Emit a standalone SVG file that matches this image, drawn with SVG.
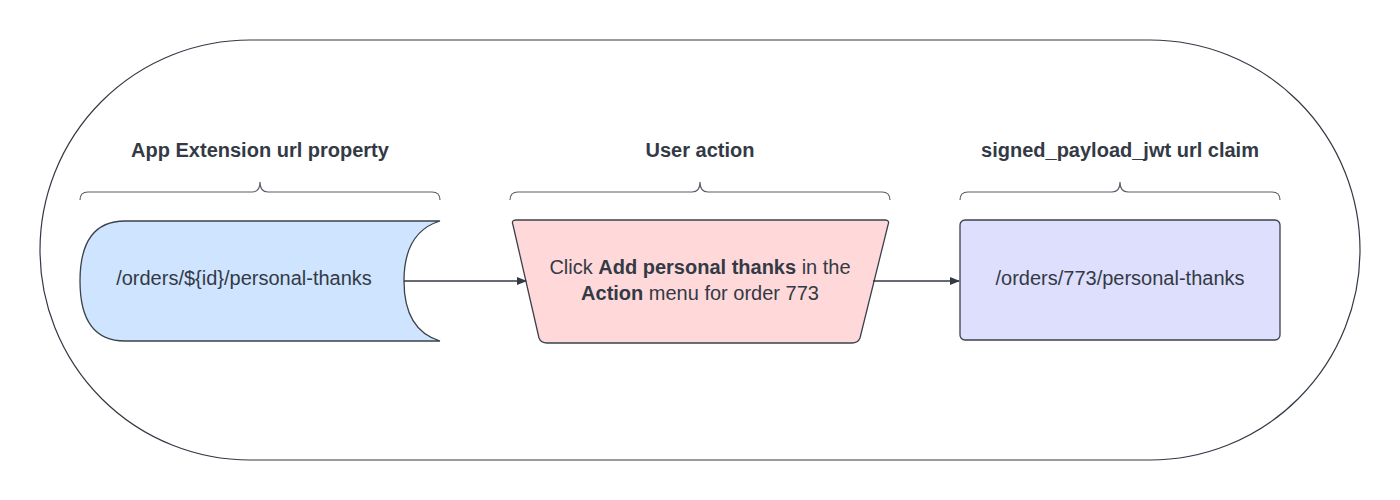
<svg xmlns="http://www.w3.org/2000/svg" width="1400" height="500" viewBox="0 0 1400 500">
<style>
text{font-family:"Liberation Sans",Arial,sans-serif;fill:#333a45;font-size:20px;text-anchor:middle}
.t{font-weight:bold}
.br{fill:none;stroke:#5a5f68;stroke-width:1.2}
.sh{stroke:#3a414a;stroke-width:1.3}
</style>
<defs><marker id="a" markerWidth="10" markerHeight="10" refX="9" refY="5" orient="auto" markerUnits="userSpaceOnUse"><path d="M0,1 L10,5 L0,9 Z" fill="#333a45"/></marker></defs>
<g id="frame"><rect x="40" y="40" width="1320" height="420" rx="210" fill="none" stroke="#333a45" stroke-width="1.2"/></g>
<g id="titles">
<text class="t" x="260" y="157">App Extension url property</text>
<text class="t" x="700" y="157">User action</text>
<text class="t" x="1120" y="157">signed_payload_jwt url claim</text>
</g>
<g id="braces">
<path class="br" d="M80,200 Q80,192 88,192 L252,192 Q260,192 260,182 Q260,192 268,192 L432,192 Q440,192 440,200"/>
<path class="br" d="M510,200 Q510,192 518,192 L692,192 Q700,192 700,182 Q700,192 708,192 L882,192 Q890,192 890,200"/>
<path class="br" d="M960,200 Q960,192 968,192 L1112,192 Q1120,192 1120,182 Q1120,192 1128,192 L1272,192 Q1280,192 1280,200"/>
</g>
<g id="n1">
<path class="sh" fill="#cfe4ff" d="M440,221 L125,221 Q80,221 80,281 Q80,341 125,341 L440,341 Q404,330 404,281 Q404,232 440,221 Z"/>
<text x="244" y="285">/orders/${id}/personal-thanks</text>
</g>
<g id="n2">
<path class="sh" fill="#ffd9da" d="M516,220 L885,220 Q890,220 888,225 L860,338 Q858,343 852,343 L547,343 Q541,343 539,338 L513,225 Q511,220 516,220 Z"/>
<text x="700" y="274">Click <tspan class="t">Add personal thanks</tspan> in the</text>
<text x="700" y="300"><tspan class="t">Action</tspan> menu for order 773</text>
</g>
<g id="n3">
<rect class="sh" x="960" y="220" width="320" height="120" rx="5" fill="#dedffc" stroke="#6c7080"/>
<text x="1120" y="285">/orders/773/personal-thanks</text>
</g>
<g id="connectors" stroke="#333a45" stroke-width="1.3">
<line x1="404" y1="281" x2="526" y2="281" marker-end="url(#a)"/>
<line x1="873" y1="281" x2="959" y2="281" marker-end="url(#a)"/>
</g>
</svg>
